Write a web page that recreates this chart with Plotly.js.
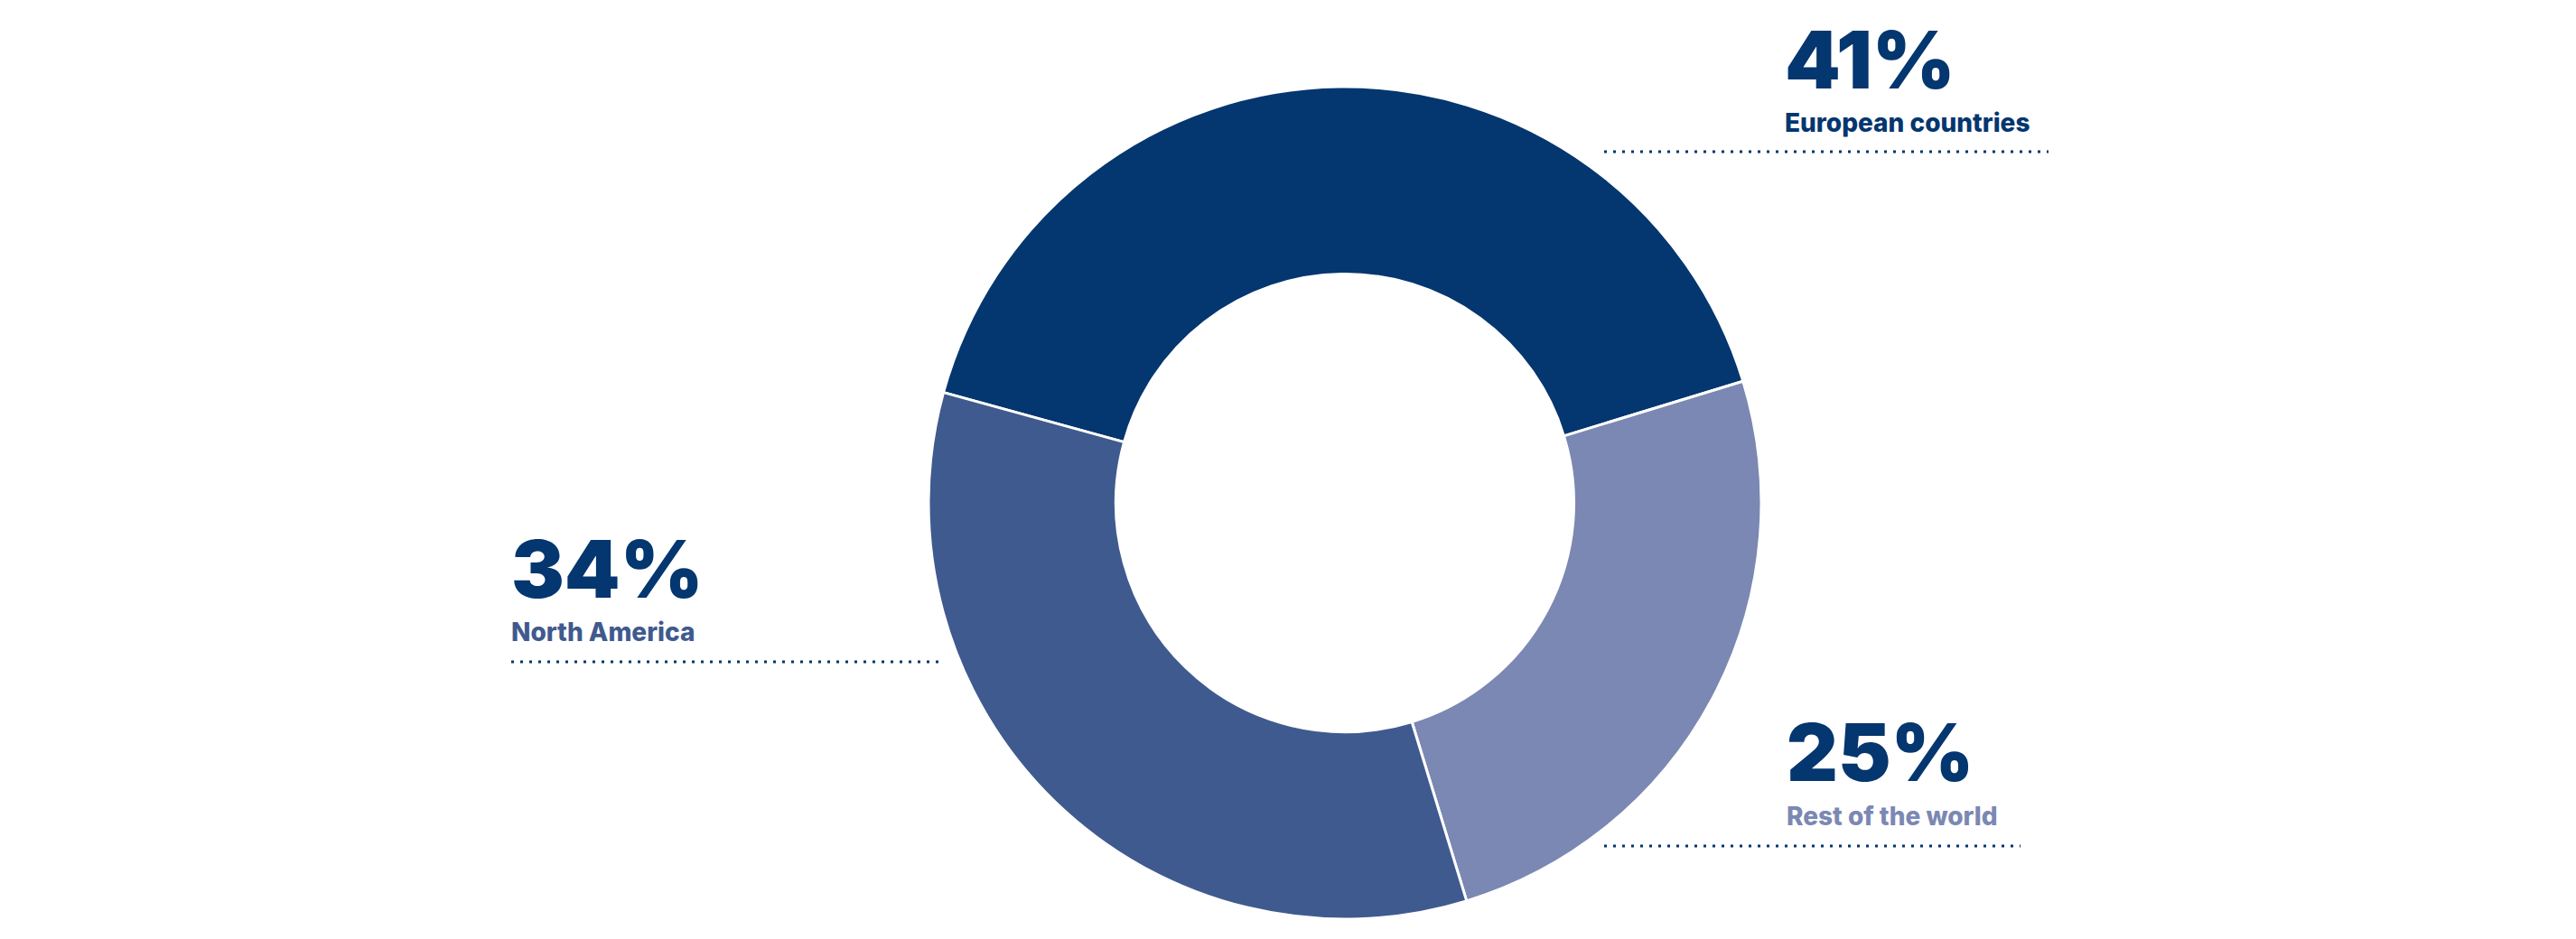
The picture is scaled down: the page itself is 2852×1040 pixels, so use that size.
<!DOCTYPE html>
<html><head><meta charset="utf-8">
<script src="https://cdn.plot.ly/plotly-3.0.1.min.js"></script>
<style>html,body{margin:0;padding:0;background:#fff;}</style>
</head><body><div id="chart" style="width:2852px;height:1040px;"></div>
<script>
// ---- data ----
const categories = ['European countries', 'Rest of the world', 'North America'];
const shares = [41, 25, 34];

// ---- styling ----
const sliceColors = ['#04366f', '#7b88b3', '#3f5a8e'];
const labelColors = ['#04366f', '#7b88b3', '#3f5a8e'];
const pctColor = '#04366f';
const W = 2852, H = 1040;
const px = x => x / W;
const py = y => 1 - y / H;

// label placement (pixels): text left, pct cap-centre, label cap-centre, dotted line y, line x0, x1
const place = [
  {tx: 1974, py: 65.5, ly: 136, dy: 168, x0: 1776, x1: 2268},
  {tx: 1976, py: 833, ly: 904, dy: 937, x0: 1776, x1: 2237},
  {tx: 564, py: 629.5, ly: 700, dy: 733, x0: 566, x1: 1041}
];

const cx = 1489, cy = 557, R = 461;

const trace = {
  type: 'pie',
  labels: categories,
  values: shares,
  sort: false,
  direction: 'clockwise',
  rotation: -74.6,
  hole: 0.55,
  textinfo: 'none',
  hoverinfo: 'label+percent',
  marker: {colors: sliceColors, line: {color: '#ffffff', width: 3}},
  domain: {x: [px(cx - R), px(cx + R)], y: [py(cy + R), py(cy - R)]},
  showlegend: false
};

const annotations = [];
const shapes = [];
categories.forEach((c, i) => {
  const p = place[i];
  annotations.push({
    xref: 'paper', yref: 'paper', x: px(p.tx), y: py(p.py),
    xanchor: 'left', yanchor: 'middle', showarrow: false,
    text: shares[i] + '%',
    font: {family: 'Inter, Lato, sans-serif', size: 88, weight: 900, color: pctColor}
  });
  annotations.push({
    xref: 'paper', yref: 'paper', x: px(p.tx), y: py(p.ly),
    xanchor: 'left', yanchor: 'middle', showarrow: false,
    text: c,
    font: {family: 'Inter, Lato, sans-serif', size: 28, weight: 800, color: labelColors[i]}
  });
  shapes.push({
    type: 'line', xref: 'paper', yref: 'paper',
    x0: px(p.x0), x1: px(p.x1), y0: py(p.dy), y1: py(p.dy),
    line: {color: pctColor, width: 3, dash: '3px,7px'}
  });
});

const layout = {
  width: W, height: H,
  margin: {l: 0, r: 0, t: 0, b: 0},
  paper_bgcolor: '#ffffff',
  plot_bgcolor: '#ffffff',
  annotations: annotations,
  shapes: shapes
};

Plotly.newPlot('chart', [trace], layout, {displayModeBar: false, staticPlot: true});
</script>
</body></html>
